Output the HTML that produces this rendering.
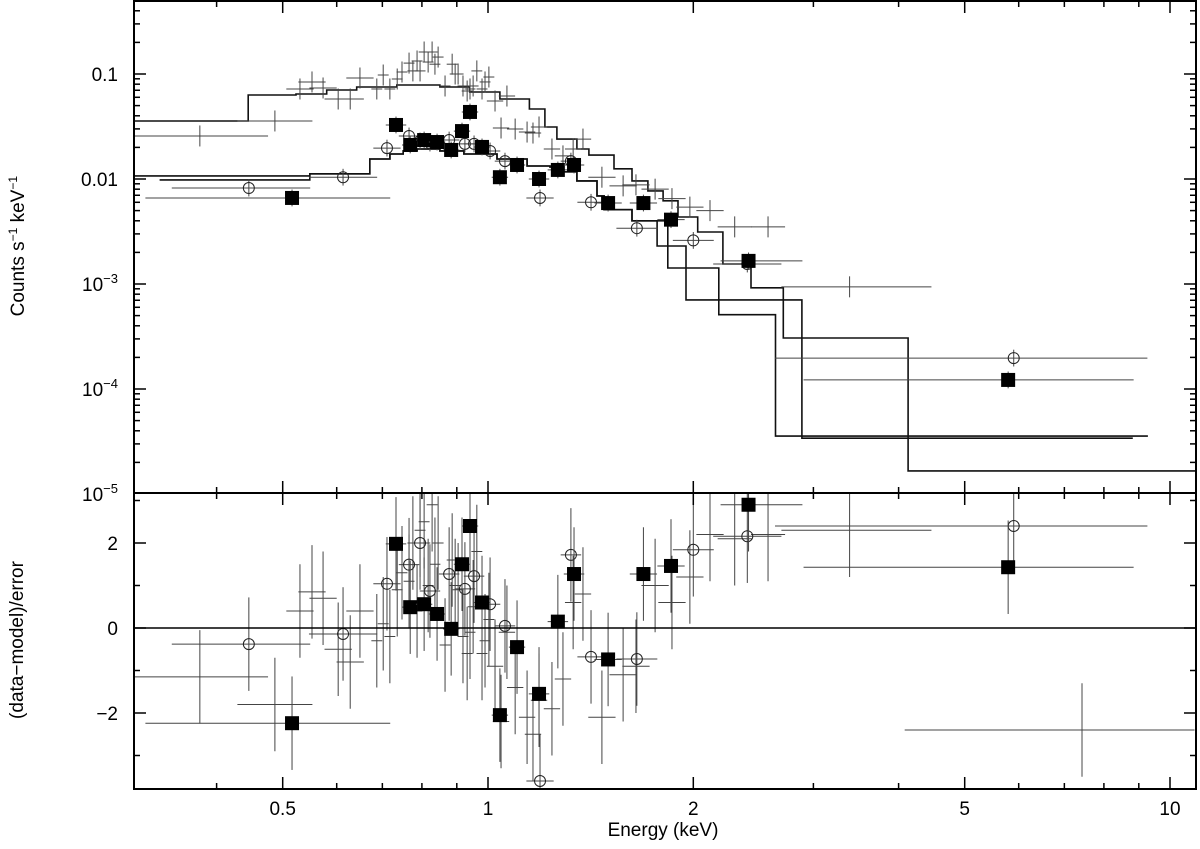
<!DOCTYPE html>
<html><head><meta charset="utf-8"><style>
html,body{margin:0;padding:0;background:#fff;}
svg{display:block;font-family:"Liberation Sans",Arial,sans-serif;}
</style></head><body>
<svg id="chart" width="1200" height="849" viewBox="0 0 1200 849" xmlns="http://www.w3.org/2000/svg"></svg>
<script>
// ---- data ----
const crossE = [0.378,0.487,0.530,0.552,0.573,0.603,0.628,0.649,0.687,0.702,0.718,0.736,0.748,0.766,0.776,0.787,0.795,0.806,0.817,0.828,0.836,0.845,0.865,0.886,0.895,0.904,0.919,0.932,0.941,0.951,0.963,0.980,0.990,1.003,1.024,1.045,1.066,1.096,1.141,1.164,1.188,1.241,1.288,1.333,1.378,1.469,1.578,1.648,1.758,1.861,1.977,2.116,2.30,2.574,3.39,7.43];
const crossF = [0.0257,0.0357,0.072,0.084,0.0736,0.0578,0.0578,0.0916,0.072,0.0978,0.072,0.0896,0.1045,0.127,0.107,0.133,0.107,0.162,0.130,0.162,0.124,0.145,0.0769,0.124,0.1,0.1,0.0769,0.0689,0.072,0.0769,0.107,0.072,0.084,0.0936,0.0553,0.0306,0.0617,0.0299,0.028,0.0274,0.0313,0.0193,0.0166,0.0193,0.024,0.0104,0.0086,0.0088,0.008,0.0065,0.0054,0.005,0.0035,0.0035,0.00094,null];
const crossR = [-1.15,-1.8,0.4,0.85,0.7,-0.5,-0.8,0.4,-0.3,0.1,-0.2,0.9,1.3,1.1,2.0,0.4,2.3,2.5,1.0,2.9,1.5,2.0,-0.4,1.6,1.0,0.9,-0.2,-0.6,-0.1,0.5,1.8,-0.6,-0.3,0.2,-0.9,-2.2,-0.1,-1.4,-2.1,-2.5,-1.7,-1.9,-1.2,0.6,0.8,-2.1,-1.1,-0.9,1.0,0.6,1.2,2.2,2.1,2.2,2.3,-2.4];
const crossXLo = [0.1,0.055,0.02,0.02,0.02,0.02,0.02,0.02,0.008,0.008,0.008,0.008,0.008,0.008,0.008,0.008,0.008,0.008,0.008,0.008,0.008,0.008,0.008,0.008,0.008,0.008,0.008,0.008,0.008,0.008,0.008,0.008,0.008,0.008,0.012,0.012,0.012,0.012,0.012,0.012,0.012,0.012,0.012,0.012,0.012,0.02,0.02,0.02,0.02,0.02,0.02,0.02,0.025,0.025,0.1,0.26];
const crossXHi = [0.1,0.055,0.02,0.02,0.02,0.02,0.02,0.02,0.008,0.008,0.008,0.008,0.008,0.008,0.008,0.008,0.008,0.008,0.008,0.008,0.008,0.008,0.008,0.008,0.008,0.008,0.008,0.008,0.008,0.008,0.008,0.008,0.008,0.008,0.012,0.012,0.012,0.012,0.012,0.012,0.012,0.012,0.012,0.012,0.012,0.02,0.02,0.02,0.02,0.02,0.02,0.02,0.025,0.025,0.12,0.165];

const circE = [0.446,0.613,0.711,0.766,0.795,0.822,0.877,0.925,0.954,1.007,1.059,1.192,1.323,1.416,1.653,2.0,2.40,5.90];
const circF = [0.0082,0.0104,0.0197,0.0257,0.023,0.022,0.0235,0.0216,0.0216,0.0185,0.0148,0.0066,0.0148,0.0060,0.0034,0.0026,0.00155,0.000197];
const circR = [-0.38,-0.14,1.04,1.49,2.0,0.87,1.27,0.92,1.22,0.56,0.05,-3.6,1.72,-0.68,-0.73,1.84,2.16,2.4];
const circXLo = [0.113,0.05,0.02,0.015,0.015,0.015,0.015,0.015,0.015,0.015,0.015,0.02,0.015,0.02,0.03,0.03,0.05,0.35];
const circXHi = [0.09,0.05,0.02,0.015,0.015,0.015,0.015,0.015,0.015,0.015,0.015,0.02,0.015,0.02,0.03,0.03,0.05,0.196];

const sqE = [0.516,0.733,0.769,0.806,0.842,0.883,0.916,0.941,0.980,1.041,1.103,1.188,1.266,1.337,1.50,1.69,1.855,2.41,5.79];
const sqF = [0.0066,0.0327,0.0211,0.0235,0.0225,0.0189,0.0286,0.0435,0.0202,0.0104,0.0136,0.0100,0.0122,0.0136,0.0059,0.0059,0.0041,0.00166,0.000122];
const sqR = [-2.24,1.98,0.49,0.56,0.33,-0.02,1.5,2.4,0.6,-2.05,-0.45,-1.55,0.15,1.27,-0.74,1.27,1.46,2.9,1.43];
const sqXLo = [0.215,0.015,0.012,0.012,0.012,0.012,0.012,0.012,0.012,0.012,0.012,0.015,0.015,0.015,0.02,0.02,0.02,0.041,0.30];
const sqXHi = [0.144,0.015,0.012,0.012,0.012,0.012,0.012,0.012,0.012,0.012,0.012,0.015,0.015,0.015,0.02,0.02,0.02,0.079,0.184];

const modelAEdges = [0.30,0.445,0.523,0.58,0.642,0.735,0.85,0.94,1.041,1.15,1.212,1.262,1.35,1.406,1.53,1.626,1.716,1.806,1.899,2.03,2.21,2.43,2.71,4.13,10.9];
const modelAVals  = [0.0357,0.0631,0.0645,0.0704,0.0752,0.0786,0.0752,0.0674,0.0578,0.0464,0.0313,0.024,0.0193,0.0169,0.0125,0.0096,0.0077,0.0062,0.00435,0.00313,0.00155,0.00092,0.000306,0.0000166];
const modelBEdges = [0.30,0.548,0.671,0.718,0.751,0.787,0.85,0.922,1.031,1.141,1.233,1.288,1.35,1.445,1.48,1.626,1.77,1.835,2.18,2.64,9.28];
const modelBVals  = [0.0107,0.0112,0.0155,0.0173,0.0185,0.0193,0.0185,0.0173,0.0155,0.0133,0.013,0.0117,0.0096,0.0069,0.0051,0.0040,0.0023,0.00142,0.00051,0.0000356];
const modelCEdges = [0.33,0.548,0.671,0.718,0.751,0.787,0.85,0.922,1.031,1.141,1.233,1.288,1.35,1.445,1.48,1.626,1.835,1.951,2.886,8.82];
const modelCVals  = [0.0098,0.0112,0.0155,0.0173,0.0185,0.0193,0.0185,0.0173,0.0155,0.0133,0.013,0.0117,0.0096,0.0069,0.0051,0.0040,0.0023,0.000705,0.000034];

const xMajor = [0.5,1,2,5,10];
const xMajorLabels = ["0.5","1","2","5","10"];
const xMinor = [0.4,0.6,0.7,0.8,0.9,3,4,6,7,8,9];
const yMajor = [0.1,0.01,0.001,0.0001,0.00001];
const rMajor = [-2,0,2];

// ---- axes ----
const L=134, R=1196, T=1, MID=493, B=789;
const X = e => 488 + 682*Math.log10(e);
const Y = f => 74 + 105*(-1 - Math.log10(f));
const YR = r => 628 - 42.5*r;

const svg=document.getElementById('chart');
const NS='http://www.w3.org/2000/svg';
function mk(tag,attrs,parent){const el=document.createElementNS(NS,tag);for(const k in attrs)el.setAttribute(k,attrs[k]);(parent||svg).appendChild(el);return el;}

const topG=mk('g',{});


const botG=mk('g',{});


const clipT=mk('clipPath',{id:'ct'});mk('rect',{x:L,y:T,width:R-L,height:MID-T},clipT);
const clipB=mk('clipPath',{id:'cb'});mk('rect',{x:L,y:MID,width:R-L,height:B-MID},clipB);
const dT=mk('g',{'clip-path':'url(#ct)'},topG);
const dB=mk('g',{'clip-path':'url(#cb)'},botG);

function step(edges,vals,name){
  let d='';
  for(let i=0;i<vals.length;i++){
    const x0=X(edges[i]),x1=X(edges[i+1]),y=Y(vals[i]);
    d+=(i===0?'M':'L')+x0.toFixed(1)+' '+y.toFixed(1)+' L'+x1.toFixed(1)+' '+y.toFixed(1)+' ';
  }
  const p=mk('path',{d:d,fill:'none',stroke:'#111','stroke-width':1.6},dT);
  
  
}
step(modelAEdges,modelAVals,'model-line-a');
step(modelBEdges,modelBVals,'model-line-b');
step(modelCEdges,modelCVals,'model-line-c');

function errbar(g,x0,x1,y0,y1,cx,cy){
  mk('line',{x1:x0,y1:cy,x2:x1,y2:cy,stroke:'#444','stroke-width':1},g);
  mk('line',{x1:cx,y1:y0,x2:cx,y2:y1,stroke:'#444','stroke-width':1},g);
}
function marker(g,kind,cx,cy){
  if(kind==='sq') mk('rect',{x:cx-7,y:cy-7,width:14,height:14,fill:'#000'},g);
  else if(kind==='ci') mk('circle',{cx:cx,cy:cy,r:5.5,fill:'none',stroke:'#222','stroke-width':1},g);
}
function series(E,F,Rs,XL,XH,yerr,kind,name){
  for(let i=0;i<E.length;i++){
    const cx=X(E[i]);const x0=X(E[i]/Math.pow(10,XL[i])),x1=X(E[i]*Math.pow(10,XH[i]));
    if(F[i]!==null){
      const g=mk('g',{},dT);
      
      
      const cy=Y(F[i]);
      errbar(g,x0,x1,Y(F[i]*Math.pow(10,yerr)),Y(F[i]/Math.pow(10,yerr)),cx,cy);
      marker(g,kind,cx,cy);
    }
    const g2=mk('g',{},dB);
    
    
    const ry=YR(Rs[i]);
    errbar(g2,x0,x1,YR(Rs[i]+1.1),YR(Rs[i]-1.1),cx,ry);
    marker(g2,kind,cx,ry);
  }
}
series(crossE,crossF,crossR,crossXLo,crossXHi,0.1,'cr','cross-data');
series(circE,circF,circR,circXLo,circXHi,0.08,'ci','circle-data');
series(sqE,sqF,sqR,sqXLo,sqXHi,0.08,'sq','square-data');

const z=mk('line',{x1:L,y1:YR(0),x2:R,y2:YR(0),stroke:'#000','stroke-width':1.6},botG);



mk('rect',{x:L,y:T,width:R-L,height:B-T,fill:'none',stroke:'#000','stroke-width':2});
mk('line',{x1:L,y1:MID,x2:R,y2:MID,stroke:'#000','stroke-width':2});

[T,MID,B].forEach(yb=>{
  xMajor.forEach(v=>{const x=X(v);
    if(yb!==T) mk('line',{x1:x,y1:yb,x2:x,y2:yb-12,stroke:'#000','stroke-width':1.5});
    if(yb!==B) mk('line',{x1:x,y1:yb,x2:x,y2:yb+12,stroke:'#000','stroke-width':1.5});});
  xMinor.forEach(v=>{const x=X(v);
    if(yb!==T) mk('line',{x1:x,y1:yb,x2:x,y2:yb-6,stroke:'#000','stroke-width':1.5});
    if(yb!==B) mk('line',{x1:x,y1:yb,x2:x,y2:yb+6,stroke:'#000','stroke-width':1.5});});
});
xMajor.forEach((v,i)=>{
  const t=mk('text',{x:X(v),y:815,'font-size':19,'text-anchor':'middle',fill:'#000'});
  t.textContent=xMajorLabels[i];
  
  
});
for(let d=-5;d<=0;d++){
  for(let m=1;m<=9;m++){
    const v=m*Math.pow(10,d);const y=Y(v);
    if(y<T||y>MID)continue;
    const len=m===1?12:6;
    mk('line',{x1:L,y1:y,x2:L+len,y2:y,stroke:'#000','stroke-width':1.5});
    mk('line',{x1:R,y1:y,x2:R-len,y2:y,stroke:'#000','stroke-width':1.5});
  }
}
const yLab=[["0.1",null],["0.01",null],["10","−3"],["10","−4"],["10","−5"]];
yMajor.forEach((v,i)=>{
  const t=mk('text',{x:118,y:Y(v)+7,'font-size':19,'text-anchor':'end',fill:'#000'});
  
  
  t.textContent=yLab[i][0];
  if(yLab[i][1]!==null){const s=mk('tspan',{'font-size':13,dy:-8},t);s.textContent=yLab[i][1];}
});
for(let r=-3;r<=3;r++){const y=YR(r);const len=(r%2===0)?12:6;
  mk('line',{x1:L,y1:y,x2:L+len,y2:y,stroke:'#000','stroke-width':1.5});
  mk('line',{x1:R,y1:y,x2:R-len,y2:y,stroke:'#000','stroke-width':1.5});}
rMajor.forEach(v=>{
  const t=mk('text',{x:118,y:YR(v)+7,'font-size':19,'text-anchor':'end',fill:'#000'});
  t.textContent=v<0?'−'+Math.abs(v):String(v);
  
  
});
</script>
<div style="position:absolute;left:0;top:0;width:1200px;height:849px;pointer-events:none;font-family:'Liberation Sans',Arial,sans-serif;">
  <div style="position:absolute;left:563px;top:820px;width:200px;text-align:center;font-size:19px;">Energy (keV)</div>
  <div style="position:absolute;left:-82px;top:234px;width:200px;text-align:center;font-size:19px;transform:rotate(-90deg);">Counts s<sup style="font-size:12px">−1</sup> keV<sup style="font-size:12px">−1</sup></div>
  <div style="position:absolute;left:-82px;top:629px;width:200px;text-align:center;font-size:19px;transform:rotate(-90deg);">(data−model)/error</div>
</div>
</body></html>
